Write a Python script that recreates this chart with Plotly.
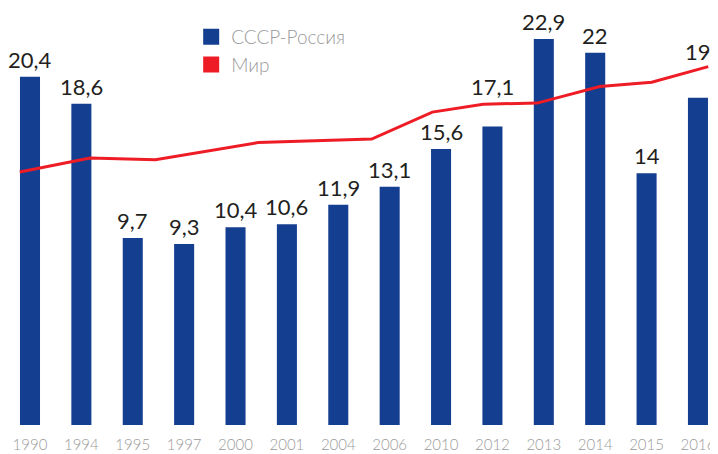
import numpy as np
import plotly.graph_objects as go

# ---- data ----
years = ["1990", "1994", "1995", "1997", "2000", "2001", "2004",
         "2006", "2010", "2012", "2013", "2014", "2015", "2016"]
russia = [20.4, 18.6, 9.7, 9.3, 10.4, 10.6, 11.9, 13.1, 15.6, 17.1, 22.9, 22.0, 14.0, 19.0]
russia_labels = ["20,4", "18,6", "9,7", "9,3", "10,4", "10,6", "11,9",
                 "13,1", "15,6", "17,1", "22,9", "22", "14", "19"]
# world series: its own sample points along the category axis (index units)
mir_x = [-0.2, 1.17, 2.44, 4.44, 6.65, 7.83, 8.82, 9.87, 11.09, 12.1, 13.2]
mir = [14.07, 15.0, 14.89, 16.03, 16.26, 18.05, 18.58, 18.65, 19.75, 20.04, 21.07]

series_names = ["СССР-Россия", "Мир"]

# ---- style ----
BLUE = "#143E8F"
RED = "#EE1C25"
FONT = "Lato"
Y_MIN, Y_MAX = -2.72, 24.83
X_MIN, X_MAX = -0.428, 13.39
# the page body adds an 8px offset, so the figure is 8px smaller each way
W, H = 710, 446

idx = list(range(len(years)))

fig = go.Figure()

fig.add_trace(go.Bar(
    x=idx, y=[v - Y_MIN for v in russia], base=Y_MIN,
    width=0.39, marker=dict(color=BLUE, line=dict(width=0)),
    showlegend=False, hoverinfo="skip",
))

fig.add_trace(go.Scatter(
    x=mir_x, y=mir, mode="lines",
    line=dict(color=RED, width=3),
    showlegend=False, hoverinfo="skip",
))

# legend entries (square swatches)
for name, col in zip(series_names, [BLUE, RED]):
    fig.add_trace(go.Scatter(
        x=[None], y=[None], mode="markers", name=name, legendgroup=name,
        marker=dict(symbol="square", size=16, color=col),
    ))

# value labels: above the bar, or above the world line when it runs just over the bar
line_at = np.interp(idx, mir_x, mir)
for i, (v, t) in enumerate(zip(russia, russia_labels)):
    gap = line_at[i] - v
    top = line_at[i] if 0 < gap < 2.0 else v
    fig.add_annotation(
        x=i, y=top, text=t, showarrow=False,
        yanchor="bottom", xanchor="center", yshift=2,
        font=dict(family=FONT, size=22, color="#231F20"),
    )

fig.update_layout(
    width=W, height=H,
    margin=dict(l=0, r=0, t=2, b=28.5),
    paper_bgcolor="white", plot_bgcolor="white",
    template="none",
    xaxis=dict(
        range=[X_MIN, X_MAX], tickvals=idx, ticktext=years,
        showgrid=False, zeroline=False, showline=False,
        ticks="outside", ticklen=6, tickcolor="rgba(0,0,0,0)",
        tickfont=dict(family=FONT, size=15, color="#9A9A9A", weight=300),
        automargin=False,
    ),
    yaxis=dict(range=[Y_MIN, Y_MAX], visible=False, showgrid=False, zeroline=False),
    legend=dict(
        x=0.258, y=0.981, xanchor="left", yanchor="top",
        bgcolor="rgba(0,0,0,0)", tracegroupgap=0,
        font=dict(family=FONT, size=19, color="#9A9A9A", weight=300),
    ),
    showlegend=True,
)

fig.write_html("out.html")
